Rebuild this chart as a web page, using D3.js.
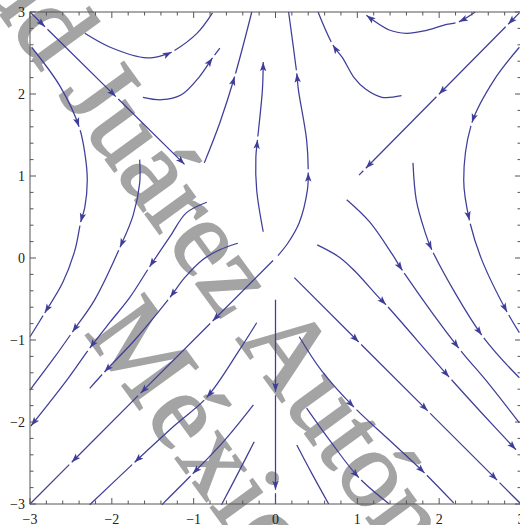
<!DOCTYPE html>
<html lang="es">
<head>
<meta charset="UTF-8">
<title>StreamPlot</title>
<script src="https://d3js.org/d3.v7.min.js"></script>
<style>
  body { margin: 0; background: #fff; }
  svg { display: block; }
</style>
</head>
<body>
<script>
// tick values
var ticksMajor = [-3, -2, -1, 0, 1, 2, 3];
var tickLabels = ["\u22123", "\u22122", "\u22121", "0", "1", "2", "3"];

// streamlines: points in flow order, and arrow tips
var s01 = [[-3, 3], [-1.11, 1.14]];
var a01 = [[-2.82, 2.82], [-1.96, 1.96], [-1.11, 1.14]];
var s02 = [[-2.98, 2.57], [-2.63, 2.09], [-2.40, 1.60], [-2.33, 1.28], [-2.30, 0.95], [-2.33, 0.62], [-2.38, 0.44], [-2.45, 0.10], [-2.60, -0.30], [-2.82, -0.67], [-3.0, -0.96]];
var a02 = [[-2.40, 1.60], [-2.38, 0.44], [-2.82, -0.67]];
var s03 = [[-2.33, 2.74], [-2.02, 2.57], [-1.57, 2.44], [-1.35, 2.48], [-1.27, 2.51], [-0.96, 2.74], [-0.77, 2.99]];
var a03 = [[-1.27, 2.51]];
var s04 = [[-1.62, 1.96], [-1.39, 1.93], [-1.15, 1.99], [-0.93, 2.21], [-0.77, 2.44], [-0.68, 2.56]];
var a04 = [[-0.77, 2.44]];
var s05 = [[-0.87, 1.16], [-0.68, 1.65], [-0.50, 2.21], [-0.29, 3.0]];
var a05 = [[-0.50, 2.21]];
var s06 = [[-0.15, 0.32], [-0.23, 0.83], [-0.24, 1.23], [-0.22, 1.44], [-0.16, 2.05], [-0.15, 2.39]];
var a06 = [[-0.22, 1.44], [-0.15, 2.39]];
var s07 = [[0.03, 0.03], [0.15, 0.18], [0.29, 0.43], [0.39, 0.83], [0.40, 1.04], [0.38, 1.44], [0.28, 2.05], [0.26, 2.25], [0.16, 3.0]];
var a07 = [[0.40, 1.04], [0.26, 2.25]];
var s08 = [[-0.03, -0.03], [-3, -3]];
var a08 = [[-0.77, -0.77], [-1.65, -1.65], [-2.49, -2.49]];
var s09 = [[1.54, 1.98], [1.30, 1.96], [1.10, 2.06], [0.96, 2.20], [0.82, 2.44], [0.70, 2.60], [0.52, 3.0]];
var a09 = [[0.70, 2.60]];
var s10 = [[2.44, 3.0], [2.24, 2.88], [2.06, 2.84], [1.82, 2.77], [1.60, 2.74], [1.39, 2.78], [1.11, 2.96]];
var a10 = [[2.24, 2.88], [1.11, 2.96]];
var s11 = [[2.98, 2.99], [1.02, 1.01]];
var a11 = [[2.85, 2.84], [2.0, 1.99], [1.1, 1.1]];
var s12 = [[2.98, 2.57], [2.67, 2.17], [2.40, 1.65], [2.30, 0.95], [2.37, 0.46], [2.52, -0.02], [2.83, -0.66], [2.98, -0.91]];
var a12 = [[2.40, 1.65], [2.37, 0.46], [2.83, -0.66]];
var s13 = [[1.68, 1.16], [1.72, 0.71], [1.82, 0.34], [1.91, 0.10], [2.52, -0.94], [2.98, -1.46]];
var a13 = [[1.91, 0.10], [2.52, -0.94]];
var s14 = [[0.87, 0.71], [1.15, 0.44], [1.43, 0.04], [1.55, -0.15], [2.24, -1.10], [2.57, -1.49], [2.98, -2.01]];
var a14 = [[1.55, -0.15], [2.24, -1.10]];
var s15 = [[0.51, 0.16], [0.78, 0.01], [0.96, -0.15], [1.27, -0.49], [1.35, -0.57], [2.12, -1.45], [2.52, -1.89], [2.94, -2.34]];
var a15 = [[1.35, -0.57], [2.12, -1.45], [2.94, -2.34]];
var s16 = [[0.23, -0.24], [3, -3]];
var a16 = [[1.02, -1.02], [1.86, -1.86], [2.71, -2.71]];
var s17 = [[0.29, -0.96], [0.56, -1.37], [0.96, -1.82], [1.39, -2.22], [1.82, -2.62], [2.18, -2.99]];
var a17 = [[0.96, -1.82], [1.82, -2.62]];
var s18 = [[0.38, -1.83], [0.66, -2.22], [1.02, -2.68], [1.39, -3.0]];
var a18 = [[1.02, -2.68]];
var s19 = [[0.26, -2.28], [0.44, -2.62], [0.65, -3.0]];
var a19 = [];
var s20 = [[0, -0.51], [0, -3]];
var a20 = [[0, -1.63], [0, -2.83]];
var s21 = [[-1.66, 1.20], [-1.66, 0.91], [-1.74, 0.52], [-1.90, 0.13], [-2.21, -0.51], [-2.48, -0.90], [-2.70, -1.21], [-3.0, -1.61]];
var a21 = [[-1.90, 0.13], [-2.48, -0.90]];
var s22 = [[-0.84, 0.68], [-1.09, 0.55], [-1.29, 0.26], [-1.54, -0.11], [-1.78, -0.48], [-2.02, -0.78], [-2.27, -1.10], [-2.55, -1.49], [-2.99, -2.05]];
var a22 = [[-1.54, -0.11], [-2.27, -1.10], [-2.99, -2.05]];
var s23 = [[-0.46, 0.18], [-0.68, 0.10], [-0.89, -0.02], [-1.11, -0.24], [-1.29, -0.48], [-1.72, -1.0], [-2.09, -1.39], [-2.27, -1.59]];
var a23 = [[-1.29, -0.48], [-2.09, -1.39]];
var s24 = [[-0.23, -0.79], [-0.44, -1.12], [-0.84, -1.70], [-1.23, -2.04], [-1.72, -2.49], [-2.27, -3.01]];
var a24 = [[-0.84, -1.70], [-1.72, -2.49]];
var s25 = [[-0.27, -1.79], [-0.62, -2.22], [-1.01, -2.63], [-1.39, -3.01]];
var a25 = [[-1.01, -2.63]];
var s26 = [[-0.26, -2.24], [-0.44, -2.59], [-0.66, -3.01]];
var a26 = [];

var streams = [[s01, a01], [s02, a02], [s03, a03], [s04, a04], [s05, a05], [s06, a06],
               [s07, a07], [s08, a08], [s09, a09], [s10, a10], [s11, a11], [s12, a12],
               [s13, a13], [s14, a14], [s15, a15], [s16, a16], [s17, a17], [s18, a18],
               [s19, a19], [s20, a20], [s21, a21], [s22, a22], [s23, a23], [s24, a24],
               [s25, a25], [s26, a26]];

var width = 520, height = 525;
var plotL = 30, plotR = 521, plotT = 12, plotB = 504;
var blue = "#3e3e9a";

var svg = d3.select("body").append("svg")
    .attr("width", width)
    .attr("height", height);

var xScale = d3.scaleLinear().domain([-3, 3]).range([plotL, plotR]);
var yScale = d3.scaleLinear().domain([-3, 3]).range([plotB, plotT]);

// watermark behind everything
var wm = svg.append("g")
    .attr("fill", "#a4a4a4")
    .attr("stroke", "#a4a4a4")
    .attr("stroke-width", 2)
    .style("font-family", "'Liberation Serif', serif")
    .style("font-size", "110px");
var w1 = wm.append("g").attr("transform", "translate(58,94) rotate(54)");
w1.append("text").attr("x", -27).attr("text-anchor", "end").text("Ciudad");
w1.append("text").attr("x", 0).text("Juárez Autónoma");
wm.append("g").attr("transform", "translate(84,333) rotate(54)")
  .append("text").style("letter-spacing", "4px").text("México");

// streamlines
var line = d3.line()
    .x(function(d) { return xScale(d[0]); })
    .y(function(d) { return yScale(d[1]); })
    .curve(d3.curveCatmullRom.alpha(0.5));

var lineGroup = svg.append("g");
var headGroup = svg.append("g");
var gap = 3.5;

streams.forEach(function(s) {
  var pts = s[0], arrows = s[1];
  var path = lineGroup.append("path")
      .attr("d", line(pts))
      .attr("fill", "none")
      .attr("stroke", blue)
      .attr("stroke-width", 1.25);
  var node = path.node();
  var total = node.getTotalLength();

  var lens = arrows.map(function(a) {
    var ax = xScale(a[0]), ay = yScale(a[1]);
    var best = 0, bd = Infinity;
    for (var l = 0; l <= total; l += 0.5) {
      var p = node.getPointAtLength(l);
      var dd = (p.x - ax) * (p.x - ax) + (p.y - ay) * (p.y - ay);
      if (dd < bd) { bd = dd; best = l; }
    }
    return best;
  }).sort(function(a, b) { return a - b; });

  if (lens.length) {
    var dash = [], pos = 0;
    lens.forEach(function(l) {
      dash.push(Math.max(0.01, l - pos), gap);
      pos = l + gap;
    });
    dash.push(total + 10);
    path.attr("stroke-dasharray", dash.join(" "));
  }

  lens.forEach(function(l) {
    var p = node.getPointAtLength(l);
    var q = node.getPointAtLength(Math.max(0, l - 3));
    var ang = Math.atan2(p.y - q.y, p.x - q.x) * 180 / Math.PI;
    headGroup.append("path")
        .attr("d", "M0,0L-9,-3.2L-7,0L-9,3.2Z")
        .attr("transform", "translate(" + p.x + "," + p.y + ") rotate(" + ang + ")")
        .attr("fill", blue);
  });
});

// frame and ticks
var frame = svg.append("g").attr("stroke", "#555").attr("stroke-width", 1);
frame.append("rect")
    .attr("x", plotL).attr("y", plotT)
    .attr("width", plotR - plotL).attr("height", plotB - plotT)
    .attr("fill", "none");

var minor = d3.range(-3, 3.0001, 0.2);
minor.forEach(function(t) {
  var major = Math.abs(t - Math.round(t)) < 1e-6;
  var len = major ? 6 : 3.5;
  var px = xScale(t), py = yScale(t);
  frame.append("line").attr("x1", px).attr("x2", px).attr("y1", plotB).attr("y2", plotB - len);
  frame.append("line").attr("x1", px).attr("x2", px).attr("y1", plotT).attr("y2", plotT + len);
  frame.append("line").attr("y1", py).attr("y2", py).attr("x1", plotL).attr("x2", plotL + len);
  frame.append("line").attr("y1", py).attr("y2", py).attr("x1", plotR).attr("x2", plotR - len);
});

var labels = svg.append("g")
    .attr("fill", "#222")
    .style("font-family", "'Liberation Serif', serif")
    .style("font-size", "14px");

labels.selectAll(".xl").data(ticksMajor).enter().append("text")
    .attr("x", function(d) { return xScale(d); })
    .attr("y", 524)
    .attr("text-anchor", "middle")
    .text(function(d, i) { return tickLabels[i]; });

labels.selectAll(".yl").data(ticksMajor).enter().append("text")
    .attr("x", 25)
    .attr("y", function(d) { return yScale(d) + 5; })
    .attr("text-anchor", "end")
    .text(function(d, i) { return tickLabels[i]; });
</script>
</body>
</html>
